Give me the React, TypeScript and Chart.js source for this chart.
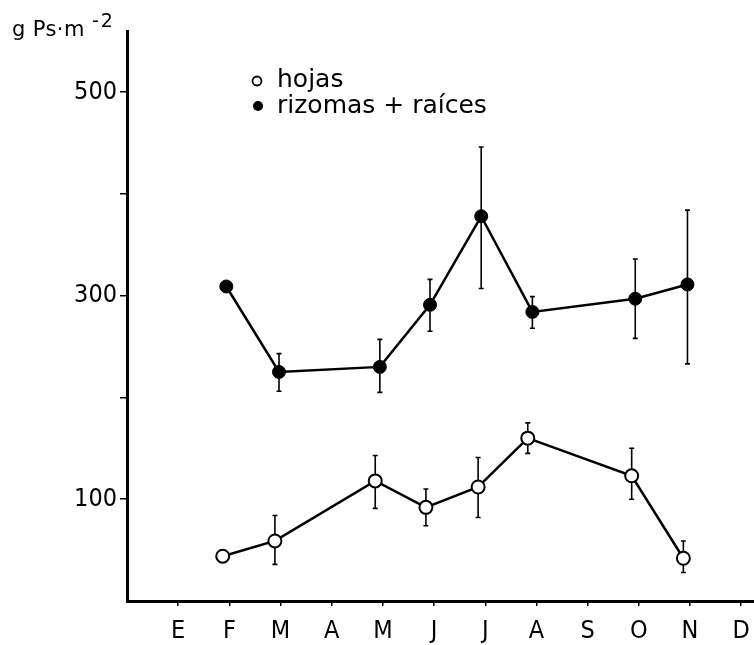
import React, { useEffect, useRef } from "react";
import { Chart, registerables } from "chart.js";

Chart.register(...registerables);

// ---- data ----
const monthLabels = ["E", "F", "M", "A", "M", "J", "J", "A", "S", "O", "N", "D"];
const yTickValues = [100, 200, 300, 400, 500];
const yTickLabels = ["100", "", "300", "", "500"];

// rizomas + raíces (filled circles); x = sampling time in months (0 = E)
const rizomasMonth = [0.94, 1.97, 3.94, 4.92, 5.92, 6.92, 8.93, 9.95];
const rizomasValues = [309, 225, 230, 291, 378, 284, 297, 311];
const rizomasLow = [null, 206, 205, 265, 307, 268, 258, 233];
const rizomasHigh = [null, 243, 257, 316, 446, 299, 336, 384];

// hojas (open circles)
const hojasMonth = [0.87, 1.89, 3.85, 4.84, 5.86, 6.83, 8.86, 9.87];
const hojasValues = [44, 59, 118, 92, 112, 160, 123, 42];
const hojasLow = [null, 36, 91, 74, 82, 145, 100, 28];
const hojasHigh = [null, 84, 143, 110, 141, 175, 150, 59];

const legendHojas = "hojas";
const legendRizomas = "rizomas + raíces";
const unitMain = "g Ps·m";
const unitSup = "-2";

const NARROW = "'DejaVu Sans Condensed', 'Liberation Sans', sans-serif";
const SANS = "'DejaVu Sans', 'Liberation Sans', sans-serif";

const errorBarPlugin = {
  id: "errorBars",
  beforeDatasetsDraw(chart: any) {
    const { ctx, scales } = chart;
    const xs = scales.x;
    const ys = scales.y;
    ctx.save();
    ctx.strokeStyle = "#000";
    ctx.lineWidth = 1.6;
    chart.data.datasets.forEach((ds: any) => {
      const lows = ds.errLow as (number | null)[];
      const highs = ds.errHigh as (number | null)[];
      if (!lows) return;
      ds.data.forEach((pt: any, i: number) => {
        const lo = lows[i];
        const hi = highs[i];
        if (lo == null || hi == null) return;
        const px = xs.getPixelForValue(pt.x);
        const pLo = ys.getPixelForValue(lo);
        const pHi = ys.getPixelForValue(hi);
        ctx.beginPath();
        ctx.moveTo(px, pLo);
        ctx.lineTo(px, pHi);
        ctx.moveTo(px - 2.5, pLo);
        ctx.lineTo(px + 2.5, pLo);
        ctx.moveTo(px - 2.5, pHi);
        ctx.lineTo(px + 2.5, pHi);
        ctx.stroke();
      });
    });
    ctx.restore();
  },
};

const annotationPlugin = {
  id: "annotations",
  afterDraw(chart: any) {
    const { ctx } = chart;
    ctx.save();
    ctx.fillStyle = "#000";
    ctx.strokeStyle = "#000";
    ctx.textBaseline = "alphabetic";
    ctx.textAlign = "left";
    // unit title
    ctx.font = `21px ${SANS}`;
    (ctx as any).letterSpacing = "0.4px";
    ctx.fillText(unitMain, 12, 36);
    (ctx as any).letterSpacing = "2px";
    ctx.font = `19px ${SANS}`;
    ctx.fillText(unitSup, 92, 27);
    (ctx as any).letterSpacing = "0px";
    // legend
    ctx.lineWidth = 1.8;
    ctx.beginPath();
    ctx.arc(257, 81, 4.5, 0, Math.PI * 2);
    ctx.stroke();
    ctx.beginPath();
    ctx.arc(258, 106, 5, 0, Math.PI * 2);
    ctx.fill();
    ctx.font = `25px ${SANS}`;
    ctx.fillText(legendHojas, 277, 87);
    ctx.fillText(legendRizomas, 277, 113);
    ctx.restore();
  },
};

export default function App() {
  const ref = useRef<HTMLCanvasElement | null>(null);

  useEffect(() => {
    if (!ref.current) return;
    const mk = (xs: number[], ys: number[]) => xs.map((x, i) => ({ x, y: ys[i] }));
    const chart = new Chart(ref.current, {
      type: "line",
      data: {
        datasets: [
          {
            label: legendRizomas,
            data: mk(rizomasMonth, rizomasValues),
            borderColor: "#000",
            borderWidth: 2.5,
            backgroundColor: "#000",
            pointBackgroundColor: "#000",
            pointBorderColor: "#000",
            pointBorderWidth: 1,
            pointRadius: 6.5,
            tension: 0,
            errLow: rizomasLow,
            errHigh: rizomasHigh,
          } as any,
          {
            label: legendHojas,
            data: mk(hojasMonth, hojasValues),
            borderColor: "#000",
            borderWidth: 2.5,
            backgroundColor: "#fff",
            pointBackgroundColor: "#fff",
            pointBorderColor: "#000",
            pointBorderWidth: 2,
            pointRadius: 6.5,
            tension: 0,
            errLow: hojasLow,
            errHigh: hojasHigh,
          } as any,
        ],
      },
      options: {
        animation: false,
        responsive: false,
        devicePixelRatio: 1,
        layout: { autoPadding: false, padding: { top: 31, left: 0, right: 0, bottom: 0 } },
        plugins: {
          legend: { display: false },
          tooltip: { enabled: false },
          title: { display: false },
        },
        scales: {
          x: {
            type: "linear",
            min: -1,
            max: 11.25,
            afterBuildTicks: (s: any) => {
              s.ticks = monthLabels.map((_, i) => ({ value: i }));
            },
            afterFit: (s: any) => {
              s.height = 44;
              s.paddingLeft = 0;
              s.paddingRight = 0;
            },
            ticks: {
              autoSkip: false,
              maxRotation: 0,
              minRotation: 0,
              padding: 10,
              color: "#000",
              font: { family: NARROW, size: 25 },
              callback: (v: any) => monthLabels[Math.round(v)] ?? "",
            },
            grid: {
              display: true,
              drawOnChartArea: false,
              drawTicks: true,
              tickLength: 5,
              color: "#000",
              lineWidth: 1.5,
            },
            border: { display: true, color: "#000", width: 3 },
          },
          y: {
            type: "linear",
            min: 0,
            max: 560,
            afterBuildTicks: (s: any) => {
              s.ticks = yTickValues.map((v) => ({ value: v }));
            },
            afterFit: (s: any) => {
              s.width = 127;
              s.paddingTop = 0;
              s.paddingBottom = 0;
            },
            ticks: {
              padding: 3,
              color: "#000",
              font: { family: NARROW, size: 25 },
              callback: (_v: any, i: number) => yTickLabels[i] ?? "",
            },
            grid: {
              display: true,
              drawOnChartArea: false,
              drawTicks: true,
              tickLength: 7,
              color: "#000",
              lineWidth: 1.5,
            },
            border: { display: true, color: "#000", width: 3 },
          },
        },
      },
      plugins: [errorBarPlugin, annotationPlugin],
    });
    return () => chart.destroy();
  }, []);

  return (
    <div style={{ position: "absolute", left: 0, top: 0, width: 754, height: 645, background: "#fff" }}>
      <canvas ref={ref} width={754} height={645} style={{ display: "block" }} />
    </div>
  );
}
